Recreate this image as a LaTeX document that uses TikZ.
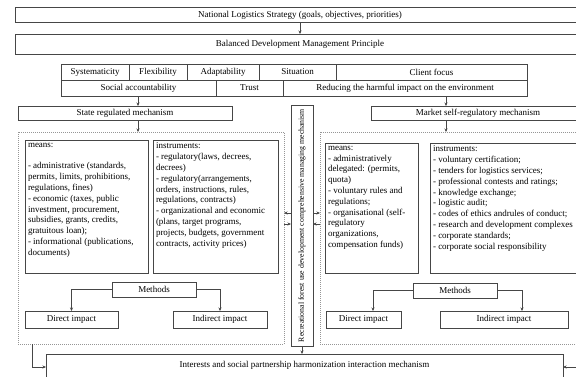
\documentclass[tikz,border=0pt]{standalone}
\usepackage{fontspec}
\setmainfont{Liberation Serif}
\usetikzlibrary{arrows.meta,positioning}
\definecolor{edgegray}{RGB}{70,70,70}
\definecolor{zonegray}{RGB}{150,150,150}

\begin{document}
\begin{tikzpicture}[x=1pt, y=-1pt, font=\fontsize{9}{10.8}\selectfont,
    box/.style={rectangle, draw=edgegray, line width=0.5pt, inner sep=0pt, outer sep=0pt},
    textbox/.style={rectangle, draw=edgegray, line width=0.6pt, anchor=north west, inner sep=3pt, outer sep=0pt},
    zone/.style={rectangle, draw=zonegray, dash pattern=on 1pt off 1pt, line width=0.5pt, inner sep=0pt, outer sep=0pt},
    link/.style={draw=edgegray, line width=0.5pt, -{Stealth[length=3.5pt,width=3pt]}}]
  \useasboundingbox (0,0) rectangle (576,376);

  % top of the scheme
  \node[box, minimum width=570, minimum height=15] (nls) at (300,15) {National Logistics Strategy (goals, objectives, priorities)};
  \node[box, minimum width=570, minimum height=20] (bdm) at (300,44) {Balanced Development Management Principle};
  \draw[link] (nls.south) -- (bdm.north);

  % principles table
  \node[box, minimum width=68, minimum height=16] (sys) at (95,72) {Systematicity};
  \node[box, minimum width=58, minimum height=16] (flex) at (158,72) {Flexibility};
  \node[box, minimum width=72, minimum height=16] (adapt) at (223,72) {Adaptability};
  \node[box, minimum width=77, minimum height=16] (sit) at (297.5,72) {Situation};
  \node[box, minimum width=191, minimum height=16] (client) at (431.5,72) {Client focus};
  \node[box, minimum width=155, minimum height=16] (soc) at (138.5,88) {Social accountability};
  \node[box, minimum width=67, minimum height=16] (trust) at (249.5,88) {Trust};
  \node[box, minimum width=244, minimum height=16] (reduce) at (405,88) {Reducing the harmful impact on the environment};

  % mechanisms
  \node[box, minimum width=214, minimum height=14] (state) at (125,113) {State regulated mechanism};
  \node[box, minimum width=214, minimum height=14] (market) at (478,113) {Market self-regulatory mechanism};
  \draw[link] ([xshift=13pt]state.north |- soc.south) -- ([xshift=13pt]state.north);
  \draw[link] ([xshift=-32pt]market.north |- reduce.south) -- ([xshift=-32pt]market.north);

  \node[zone, minimum width=266, minimum height=212] (zoneL) at (151,238) {};
  \node[zone, minimum width=266, minimum height=212] (zoneR) at (453,238) {};
  \draw[link] ([xshift=13pt]state.south) -- ([xshift=13pt]state.south |- zoneL.north);
  \draw[link] ([xshift=-32pt]market.south) -- ([xshift=-32pt]market.south |- zoneR.north);

  % state regulated side
  \node[textbox] (meansL) at (25,140) {\parbox[t][127pt][t]{117pt}{\raggedright means:\\[10.8pt]
    - administrative (standards,\\ permits, limits, prohibitions,\\ regulations, fines)\\
    - economic (taxes, public\\ investment, procurement,\\ subsidies, grants, credits,\\ gratuitous loan);\\
    - informational (publications,\\ documents)}};
  \node[textbox] (instrL) at (153,140) {\parbox[t][127pt][t]{119pt}{\raggedright instruments:\\
    - regulatory(laws, decrees,\\ decrees)\\
    - regulatory(arrangements,\\ orders, instructions, rules,\\ regulations, contracts)\\
    - organizational and economic\\ (plans, target programs,\\ projects, budgets, government\\ contracts, activity prices)}};
  \node[box, minimum width=84, minimum height=15] (methL) at (154,289.5) {Methods};
  \node[box, minimum width=93, minimum height=17] (dirL) at (71.5,319.5) {Direct impact};
  \node[box, minimum width=94, minimum height=17] (indL) at (220,319.5) {Indirect impact};
  \draw[link] (methL.west) -| (dirL.north);
  \draw[link] (methL.east) -| (indL.north);

  % market side
  \node[textbox] (meansR) at (325,143) {\parbox[t][124pt][t]{87pt}{\raggedright means:\\
    - administratively\\ delegated: (permits,\\ quota)\\
    - voluntary rules and\\ regulations;\\
    - organisational (self-\\ regulatory\\ organizations,\\ compensation funds)}};
  \node[textbox] (instrR) at (430,143) {\parbox[t][124pt][t]{150pt}{\raggedright instruments:\\
    - voluntary certification;\\
    - tenders for logistics services;\\
    - professional contests and ratings;\\
    - knowledge exchange;\\
    - logistic audit;\\
    - codes of ethics andrules of conduct;\\
    - research and development complexes\\
    - corporate standards;\\
    - corporate social responsibility}};
  \node[box, minimum width=84, minimum height=15] (methR) at (455,290.5) {Methods};
  \node[box, minimum width=75, minimum height=17] (dirR) at (363.5,319.5) {Direct impact};
  \node[box, minimum width=128, minimum height=17] (indR) at (504,319.5) {Indirect impact};
  \draw[link] (methR.west) -| ([xshift=9.5pt]dirR.north);
  \draw[link] (methR.east) -| ([xshift=18pt]indR.north);

  % recreational forest use mechanism
  \node[box, minimum width=22, minimum height=241] (mid) at (302,225.5) {};
  \node[rotate=90, font=\fontsize{7.8}{9}\selectfont] at (mid.center) {Recreational forest use development comprehensive managing mechanism};
  \coordinate (upper) at (0,213);
  \coordinate (lower) at (0,224);
  \draw[link] (upper -| mid.west) -- (upper -| zoneL.east);
  \draw[link] (lower -| zoneL.east) -- (lower -| mid.west);
  \draw[link] (upper -| mid.east) -- (upper -| zoneR.west);
  \draw[link] (lower -| zoneR.west) -- (lower -| mid.east);

  % harmonization mechanism
  \node[box, minimum width=517, minimum height=26] (harm) at (304.5,367) {};
  \node at (304.5,365) {Interests and social partnership harmonization interaction mechanism};
  \draw[link] (mid.south) -- (mid.south |- harm.north);
  \draw[link] ([xshift=14pt]zoneL.south west) |- (harm.west);
  \draw[link] ([xshift=-6pt]zoneR.south east) |- (harm.east);
\end{tikzpicture}
\end{document}
